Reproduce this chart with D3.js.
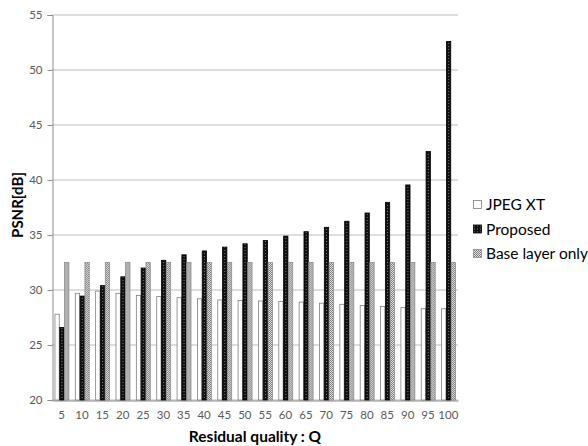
<!DOCTYPE html>
<html>
<head>
<meta charset="utf-8">
<script src="https://cdn.jsdelivr.net/npm/d3@7"></script>
<style>
  body { margin: 0; background: #fff; }
  text { font-family: Lato, "Open Sans", sans-serif; }
</style>
</head>
<body>
<div id="viz"></div>
<script>
const categories = [5, 10, 15, 20, 25, 30, 35, 40, 45, 50, 55, 60, 65, 70, 75, 80, 85, 90, 95, 100];
const seriesNames = ['JPEG XT', 'Proposed', 'Base layer only'];
const jpegXT = [27.8, 29.7, 29.9, 29.7, 29.5, 29.4, 29.3, 29.2, 29.1, 29.05, 29.0, 28.95, 28.9, 28.8, 28.7, 28.6, 28.5, 28.4, 28.3, 28.3];
const proposed = [26.6, 29.45, 30.4, 31.2, 32.0, 32.7, 33.2, 33.55, 33.9, 34.2, 34.5, 34.9, 35.3, 35.7, 36.25, 37.0, 37.97, 39.55, 42.6, 52.6];
const baseLayer = [32.5, 32.5, 32.5, 32.5, 32.5, 32.5, 32.5, 32.5, 32.5, 32.5, 32.5, 32.5, 32.5, 32.5, 32.5, 32.5, 32.5, 32.5, 32.5, 32.5];
const yTicks = [20, 25, 30, 35, 40, 45, 50, 55];

(() => {
  let margin = { top: 15, right: 130, bottom: 46, left: 52 },
    width = 588 - margin.left - margin.right,
    height = 446 - margin.top - margin.bottom;

  let root = d3.select('#viz')
    .append('svg')
    .attr('width', 588)
    .attr('height', 446);

  // fill patterns
  let defs = root.append('defs');
  let pDark = defs.append('pattern')
    .attr('id', 'dots')
    .attr('width', 3).attr('height', 3)
    .attr('patternUnits', 'userSpaceOnUse');
  pDark.append('rect').attr('width', 3).attr('height', 3).attr('fill', '#111');
  pDark.append('rect').attr('x', 1).attr('y', 1).attr('width', 1).attr('height', 1).attr('fill', '#777');

  let pHatch = defs.append('pattern')
    .attr('id', 'hatch')
    .attr('width', 2).attr('height', 2)
    .attr('patternUnits', 'userSpaceOnUse');
  pHatch.append('rect').attr('width', 2).attr('height', 2).attr('fill', '#e6e6e6');
  pHatch.append('rect').attr('width', 1).attr('height', 1).attr('fill', '#7a7a7a');
  pHatch.append('rect').attr('x', 1).attr('y', 1).attr('width', 1).attr('height', 1).attr('fill', '#7a7a7a');

  let svg = root.append('g')
    .attr('transform', `translate(${margin.left}, ${margin.top})`);

  let x0 = d3.scaleBand()
    .domain(categories)
    .range([0, width])
    .paddingInner(0.29)
    .paddingOuter(0.12);

  let x1 = d3.scaleBand()
    .domain(seriesNames)
    .range([0, x0.bandwidth()]);

  let y = d3.scaleLinear()
    .domain([20, 55])
    .range([height, 0]);

  // gridlines
  svg.append('g')
    .selectAll('line')
    .data(yTicks)
    .join('line')
    .attr('x1', 0)
    .attr('x2', width)
    .attr('y1', d => y(d))
    .attr('y2', d => y(d))
    .attr('stroke', '#bdbdbd')
    .attr('stroke-width', 1);

  // y axis
  let yAxis = svg.append('g')
    .attr('transform', 'translate(0.5,0)')
    .call(d3.axisLeft(y).tickValues(yTicks).tickSize(5).tickPadding(5));
  yAxis.select('.domain').attr('stroke', '#8c8c8c');
  yAxis.selectAll('.tick line').attr('stroke', '#8c8c8c');
  yAxis.selectAll('text')
    .style('font-size', '11.5px')
    .attr('fill', '#595959');

  // x axis
  let xAxis = svg.append('g')
    .attr('transform', `translate(0,${height + 0.5})`)
    .call(d3.axisBottom(x0).tickSize(0).tickPadding(10).tickSizeOuter(0));
  xAxis.select('.domain').attr('stroke', '#8c8c8c');
  xAxis.selectAll('text')
    .style('font-size', '11.5px')
    .attr('fill', '#595959');

  let rows = categories.map((c, i) => ({
    cat: c,
    values: [
      { key: 'JPEG XT', v: jpegXT[i] },
      { key: 'Proposed', v: proposed[i] },
      { key: 'Base layer only', v: baseLayer[i] }
    ]
  }));

  let fills = { 'JPEG XT': '#fff', 'Proposed': 'url(#dots)', 'Base layer only': 'url(#hatch)' };
  let strokes = { 'JPEG XT': '#7f7f7f', 'Proposed': '#000', 'Base layer only': '#8c8c8c' };

  svg.selectAll('.bar-group')
    .data(rows)
    .join('g')
    .attr('class', 'bar-group')
    .attr('transform', d => `translate(${x0(d.cat)},0)`)
    .selectAll('rect')
    .data(d => d.values)
    .join('rect')
    .attr('x', d => x1(d.key) + 0.5)
    .attr('y', d => y(d.v))
    .attr('width', x1.bandwidth() - 0.5)
    .attr('height', d => y(20) - y(d.v))
    .attr('fill', d => fills[d.key])
    .attr('stroke', d => strokes[d.key])
    .attr('stroke-width', 0.8);

  // axis titles
  root.append('text')
    .attr('transform', 'translate(23,205) rotate(-90)')
    .attr('text-anchor', 'middle')
    .style('font-size', '15px')
    .style('font-weight', 'bold')
    .text('PSNR[dB]');

  root.append('text')
    .attr('x', 255)
    .attr('y', 442)
    .attr('text-anchor', 'middle')
    .style('font-size', '15.5px')
    .style('font-weight', 'bold')
    .text('Residual quality : Q');

  // legend
  let legend = root.append('g')
    .attr('transform', 'translate(473,200)');
  let item = legend.selectAll('g')
    .data(seriesNames)
    .join('g')
    .attr('transform', (d, i) => `translate(0,${i * 24.5})`);
  item.append('rect')
    .attr('x', 0.5).attr('y', 0.5)
    .attr('width', 8).attr('height', 8)
    .attr('fill', d => fills[d])
    .attr('stroke', d => strokes[d])
    .attr('stroke-width', 0.8);
  item.append('text')
    .attr('x', 13)
    .attr('y', 10)
    .style('font-size', '15.5px')
    .attr('fill', '#000')
    .text(d => d);
})();
</script>
</body>
</html>
